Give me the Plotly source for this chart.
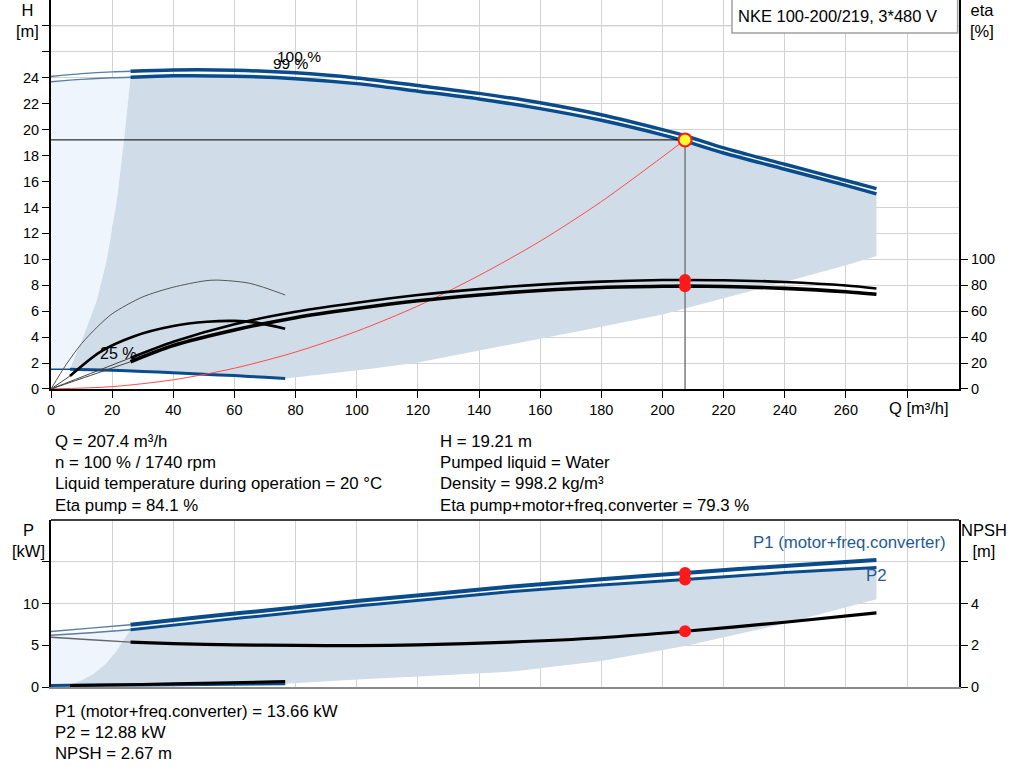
import plotly.graph_objects as go

# ---- duty point ----
q_duty = 207.4
h_duty = 19.21
eta_pump_duty = 84.1
eta_total_duty = 79.3
p1_duty = 13.66
p2_duty = 12.88
npsh_duty = 2.67

# ---- head curves (m) ----
q_h = [0, 10, 20, 26, 40, 60, 80, 100, 120, 140, 160, 180, 200, 207.4, 220, 240, 260, 270]
h_100 = [24.1, 24.32, 24.46, 24.5, 24.6, 24.58, 24.38, 23.98, 23.4, 22.8, 22.07, 21.15, 20.0, 19.53, 18.6, 17.33, 16.08, 15.45]
h_99 = [23.7, 23.88, 24.0, 24.04, 24.15, 24.12, 23.93, 23.55, 22.97, 22.37, 21.62, 20.72, 19.6, 19.12, 18.2, 16.95, 15.7, 15.05]

# min speed (25 %) head curve
q_low = [0, 6.2, 20, 30, 40, 50, 60, 70, 76.6]
h_low = [1.52, 1.52, 1.45, 1.35, 1.25, 1.14, 1.03, 0.9, 0.8]

# operating range envelope
env_left_q = [6.2, 11, 15, 18.2, 21.5, 23.9, 26]
env_left_h = [1.52, 4.3, 6.85, 9.9, 14.5, 19.2, 24.04]
env_bottom_q = [76.6, 90, 104, 120, 140, 160, 180, 200, 207.4, 220, 240, 260, 270]
env_bottom_h = [0.8, 1.17, 1.54, 2.05, 2.95, 3.9, 4.8, 5.75, 6.2, 7.0, 8.25, 9.55, 10.25]

# system curve
q_sys = [0, 20, 40, 60, 80, 100, 120, 140, 160, 180, 207.4]
h_sys = [0, 0.18, 0.71, 1.6, 2.85, 4.45, 6.4, 8.75, 11.4, 14.45, 19.21]

# ---- efficiency (%) ----
q_eta = [0, 13, 26, 40, 60, 80, 100, 120, 140, 160, 180, 200, 207.4, 220, 240, 260, 270]
eta_pump = [0, 12, 24, 36.5, 50, 59.5, 66.5, 72.5, 77, 80.5, 82.8, 84, 84.1, 83.9, 82.5, 79.8, 77.5]
eta_total = [0, 10.5, 21, 33.5, 45.5, 55, 62, 68, 72.5, 76, 78.3, 79.2, 79.3, 79, 77.6, 75, 73]

q_eta_low_p = [0, 5, 10, 15, 20, 30, 40, 50, 54, 65, 76.6]
eta_low_pump = [0, 19, 35, 47.5, 58, 71, 78.5, 83.3, 84, 81.5, 72.5]
q_eta_low_t = [0, 6.2, 16, 27, 40, 51, 60, 68, 76.6]
eta_low_total = [0, 10, 28.5, 40.5, 48.5, 51.8, 52.5, 50.8, 46.5]

# ---- power (kW) and NPSH (m) ----
q_p = [0, 13, 26, 50, 75, 100, 125, 150, 180, 207.4, 240, 270]
p1 = [6.65, 7.05, 7.45, 8.4, 9.35, 10.3, 11.15, 12.0, 12.9, 13.66, 14.5, 15.2]
p2 = [6.2, 6.5, 6.85, 7.8, 8.75, 9.7, 10.55, 11.4, 12.2, 12.88, 13.7, 14.3]

q_npsh = [0, 13, 26, 40, 60, 80, 100, 120, 150, 180, 207.4, 240, 270]
npsh = [2.38, 2.26, 2.15, 2.08, 2.02, 1.99, 1.98, 2.02, 2.15, 2.36, 2.67, 3.1, 3.55]

q_p_low = [0, 6, 30, 50, 76.6]
p_low = [0.18, 0.2, 0.25, 0.3, 0.38]
q_npsh_low = [6.2, 30, 50, 76.6]
npsh_low = [0.07, 0.12, 0.18, 0.26]

penv_left_q = [6, 10, 14, 18, 21, 23.5, 26]
penv_left_p = [0.2, 0.8, 1.6, 2.8, 4.1, 5.5, 6.85]
penv_bottom_q = [76.6, 100, 125, 151, 180, 207.4, 240, 270]
penv_bottom_p = [0.38, 0.9, 1.35, 1.85, 3.1, 4.9, 7.6, 10.5]

q_ticks = [0, 20, 40, 60, 80, 100, 120, 140, 160, 180, 200, 220, 240, 260, 280]
q_labels = ["0", "20", "40", "60", "80", "100", "120", "140", "160", "180", "200", "220", "240", "260", ""]
h_ticks = [0, 2, 4, 6, 8, 10, 12, 14, 16, 18, 20, 22, 24, 26, 28]
h_labels = ["0", "2", "4", "6", "8", "10", "12", "14", "16", "18", "20", "22", "24", "", ""]
eta_ticks = [0, 20, 40, 60, 80, 100]
p_ticks = [0, 5, 10, 15]
p_labels = ["0", "5", "10", ""]
npsh_ticks = [0, 2, 4, 6]
npsh_labels = ["0", "2", "4", ""]

BLUE = "#0a4c8b"
THIN_BLUE = "#5a7da3"
DARK_FILL = "#d0dce8"
LIGHT_FILL = "#eef5fc"
GRID = "#d2d2d2"
FONT = "Liberation Sans, Arial, sans-serif"


def part(qs, vs, lo, hi):
    pts = [(q, v) for q, v in zip(qs, vs) if lo <= q <= hi]
    return [p[0] for p in pts], [p[1] for p in pts]


def line(fig, qs, vs, color, width, xa="x", ya="y", dash=None):
    fig.add_trace(go.Scatter(x=qs, y=vs, mode="lines", xaxis=xa, yaxis=ya,
                             line=dict(color=color, width=width, shape="spline", smoothing=0.8, dash=dash),
                             hoverinfo="skip", showlegend=False))


def area(fig, qs, vs, color, xa="x", ya="y"):
    fig.add_trace(go.Scatter(x=qs, y=vs, mode="lines", fill="toself", fillcolor=color,
                             line=dict(width=0), xaxis=xa, yaxis=ya,
                             hoverinfo="skip", showlegend=False))


fig = go.Figure()

# ---------- top chart: head / efficiency ----------
q99_l, h99_l = part(q_h, h_99, 0, 26)
q99_r, h99_r = part(q_h, h_99, 26, 270)
area(fig, [0] + q99_l + env_left_q[::-1] + q_low[:2][::-1],
     [h_low[0]] + h99_l + env_left_h[::-1] + h_low[:2][::-1], LIGHT_FILL)
area(fig, env_left_q + q99_r + env_bottom_q[::-1] + q_low[1:][::-1],
     env_left_h + h99_r + env_bottom_h[::-1] + h_low[1:][::-1], DARK_FILL)

# head curves
for hs, w in ((h_100, 3.5), (h_99, 3.5)):
    qa, ha = part(q_h, hs, 0, 26)
    qb, hb = part(q_h, hs, 26, 270)
    line(fig, qa, ha, THIN_BLUE, 1.4)
    line(fig, qb, hb, BLUE, w)

qa, ha = part(q_low, h_low, 0, 6.2)
qb, hb = part(q_low, h_low, 6.2, 76.6)
line(fig, qa, ha, BLUE, 1.5)
line(fig, qb, hb, BLUE, 3)

# efficiency curves
for es, w in ((eta_pump, 2.6), (eta_total, 3.6)):
    qa, ea = part(q_eta, es, 0, 26)
    qb, eb = part(q_eta, es, 26, 270)
    line(fig, qa, ea, "#444444", 1, ya="y2")
    line(fig, qb, eb, "black", w, ya="y2")

line(fig, q_eta_low_p, eta_low_pump, "#555555", 1, ya="y2")
qa, ea = part(q_eta_low_t, eta_low_total, 0, 6.2)
qb, eb = part(q_eta_low_t, eta_low_total, 6.2, 76.6)
line(fig, qa, ea, "#444444", 1, ya="y2")
line(fig, qb, eb, "black", 2.6, ya="y2")

# system curve
line(fig, q_sys, h_sys, "#ff4a4a", 1)

# duty point lines
fig.add_trace(go.Scatter(x=[0, q_duty], y=[h_duty, h_duty], mode="lines",
                         line=dict(color="black", width=1), hoverinfo="skip", showlegend=False))
fig.add_trace(go.Scatter(x=[q_duty, q_duty], y=[0, h_duty], mode="lines",
                         line=dict(color="#7a7a7a", width=1.5), hoverinfo="skip", showlegend=False))

fig.add_trace(go.Scatter(x=[q_duty, q_duty], y=[eta_pump_duty, eta_total_duty], mode="markers", yaxis="y2",
                         marker=dict(color="#ff1a1a", size=12), hoverinfo="skip", showlegend=False))
fig.add_trace(go.Scatter(x=[q_duty], y=[h_duty], mode="markers",
                         marker=dict(color="#ffff33", size=13, line=dict(color="#ff1a1a", width=2)),
                         hoverinfo="skip", showlegend=False))

# ---------- bottom chart: power / NPSH ----------
qp2_l, p2_l = part(q_p, p2, 0, 26)
qp2_r, p2_r = part(q_p, p2, 26, 270)
area(fig, [0] + qp2_l + penv_left_q[::-1] + q_p_low[:2][::-1],
     [p_low[0]] + p2_l + penv_left_p[::-1] + p_low[:2][::-1], LIGHT_FILL, "x2", "y3")
area(fig, penv_left_q + qp2_r + penv_bottom_q[::-1] + q_p_low[1:][::-1],
     penv_left_p + p2_r + penv_bottom_p[::-1] + p_low[1:][::-1], DARK_FILL, "x2", "y3")

for ps, w in ((p1, 4), (p2, 3)):
    qa, pa = part(q_p, ps, 0, 26)
    qb, pb = part(q_p, ps, 26, 270)
    line(fig, qa, pa, THIN_BLUE, 1.4, "x2", "y3")
    line(fig, qb, pb, BLUE, w, "x2", "y3")

line(fig, q_p_low, p_low, BLUE, 3, "x2", "y3")

qa, na = part(q_npsh, npsh, 0, 26)
qb, nb = part(q_npsh, npsh, 26, 270)
line(fig, qa, na, "#666666", 1.4, "x2", "y4")
line(fig, qb, nb, "black", 3.2, "x2", "y4")
line(fig, q_npsh_low, npsh_low, "black", 3, "x2", "y4")

fig.add_trace(go.Scatter(x=[q_duty, q_duty], y=[p1_duty, p2_duty], mode="markers", xaxis="x2", yaxis="y3",
                         marker=dict(color="#ff1a1a", size=12), hoverinfo="skip", showlegend=False))
fig.add_trace(go.Scatter(x=[q_duty], y=[npsh_duty], mode="markers", xaxis="x2", yaxis="y4",
                         marker=dict(color="#ff1a1a", size=12), hoverinfo="skip", showlegend=False))

# ---------- axes ----------
TOP = [0.4338, 1.0]
BOTTOM = [0.0, 0.2431]
tickfont = dict(family=FONT, size=14.5, color="black")

fig.update_layout(
    width=1024, height=781,
    margin=dict(l=51, r=65, t=0, b=94),
    paper_bgcolor="white", plot_bgcolor="white",
    font=dict(family=FONT, size=15, color="black"),
    xaxis=dict(domain=[0, 1], anchor="y", range=[0, 297], tickvals=q_ticks, ticktext=q_labels,
               showgrid=True, gridcolor=GRID, zeroline=False, showline=True, linecolor="black", linewidth=1.5,
               ticks="outside", ticklen=7, tickcolor="black", tickfont=tickfont),
    yaxis=dict(domain=TOP, anchor="x", range=[0, 30], tickvals=h_ticks, ticktext=h_labels,
               showgrid=True, gridcolor=GRID, zeroline=False, showline=True, linecolor="black", linewidth=2,
               ticks="outside", ticklen=7, tickcolor="black", tickfont=tickfont),
    yaxis2=dict(overlaying="y", anchor="x", side="right", range=[0, 300], tickvals=eta_ticks,
                showgrid=False, zeroline=False, showline=True, linecolor="black", linewidth=2,
                ticks="outside", ticklen=7, tickcolor="black", tickfont=tickfont),
    xaxis2=dict(domain=[0, 1], anchor="y3", range=[0, 297], tickvals=q_ticks, showticklabels=False,
                showgrid=True, gridcolor=GRID, zeroline=False, showline=True, linecolor="#8a8a8a", linewidth=1.5,
                ticks=""),
    yaxis3=dict(domain=BOTTOM, anchor="x2", range=[0, 20], tickvals=p_ticks, ticktext=p_labels,
                showgrid=True, gridcolor=GRID, zeroline=False, showline=True, linecolor="black", linewidth=2,
                ticks="outside", ticklen=7, tickcolor="black", tickfont=tickfont),
    yaxis4=dict(overlaying="y3", anchor="x2", side="right", range=[0, 8], tickvals=npsh_ticks,
                ticktext=npsh_labels, showgrid=False, zeroline=False, showline=True, linecolor="black",
                linewidth=2, ticks="outside", ticklen=7, tickcolor="black", tickfont=tickfont),
)

shapes = [
    # H = 28 grid line
    dict(type="line", xref="x domain", yref="y", x0=0, x1=1, y0=28, y1=28,
         line=dict(color=GRID, width=1), layer="below"),
    # top border of power chart
    dict(type="line", xref="x2 domain", yref="y3 domain", x0=0, x1=1, y0=1, y1=1,
         line=dict(color="black", width=1.5)),
    # title box
    dict(type="rect", xref="paper", yref="paper", x0=0.75, x1=0.9985, y0=0.952, y1=1.002,
         line=dict(color="#a0a0a0", width=1.5), fillcolor="white"),
]
fig.update_layout(shapes=shapes)


def note(text, x, y, xref="paper", yref="paper", xanchor="left", size=16.8, color="black"):
    fig.add_annotation(text=text, x=x, y=y, xref=xref, yref=yref, xanchor=xanchor, yanchor="middle",
                       showarrow=False, font=dict(family=FONT, size=size, color=color))


def px(xp):
    return (xp - 51) / 908


def py(yp):
    return (687 - yp) / 687


note("NKE 100-200/219, 3*480 V", px(736), py(16), size=16.5)
note("H<br>[m]", px(27), py(20), xanchor="center", size=16.5)
note("eta<br>[%]", px(982), py(20), xanchor="center", size=16.5)
note("P<br>[kW]", px(28), py(540), xanchor="center", size=16.5)
note("NPSH<br>[m]", px(984), py(540), xanchor="center", size=16.5)
note("Q [m³/h]", 283.8, py(408), xref="x", xanchor="center", size=16.5)

note("100 %", 81, 25.63, xref="x", yref="y", xanchor="center", size=15.5)
note("99 %", 78.5, 25.1, xref="x", yref="y", xanchor="center", size=15.5)
note("25 %", 22, 2.7, xref="x", yref="y", xanchor="center", size=16)

note("P1 (motor+freq.converter)", 261.2, 17.25, xref="x2", yref="y3", xanchor="center", size=16.8, color="#1f5a96")
note("P2", 270, 13.3, xref="x2", yref="y3", xanchor="center", size=16.8, color="#1f5a96")

left_lines = ["Q = 207.4 m³/h", "n = 100 % / 1740 rpm",
              "Liquid temperature during operation = 20 °C", "Eta pump = 84.1 %"]
right_lines = ["H = 19.21 m", "Pumped liquid = Water", "Density = 998.2 kg/m³",
               "Eta pump+motor+freq.converter = 79.3 %"]
rows = [441, 462, 483, 505]
for t, r in zip(left_lines, rows):
    note(t, px(53), py(r))
for t, r in zip(right_lines, rows):
    note(t, px(438), py(r))

bottom_lines = ["P1 (motor+freq.converter) = 13.66 kW", "P2 = 12.88 kW", "NPSH = 2.67 m"]
for t, r in zip(bottom_lines, [711, 732, 753]):
    note(t, px(53), py(r))

fig.write_html("out.html", config={"displayModeBar": False},
               post_script="document.body.style.margin='0px';")
